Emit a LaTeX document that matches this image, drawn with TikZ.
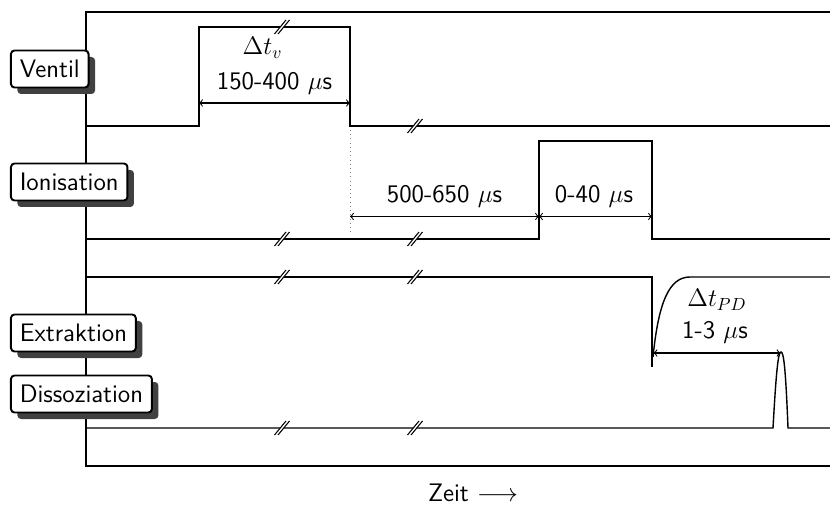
\documentclass[tikz,border=0pt]{standalone}
\usepackage{tikz}
\usetikzlibrary{shadows}
\def\zbreak(#1){\begin{scope}[shift={(#1)}]
	\fill[white] (-0.15,-0.14) -- (-0.08,-0.14) -- (0.15,0.14) -- (0.08,0.14) -- cycle;
	\draw[semithick] (-0.15,-0.14) -- (0.08,0.14) (-0.08,-0.14) -- (0.15,0.14);
\end{scope}}
\tikzset{
	sigbox/.style={draw, line width=1.1pt, fill=white, rounded corners=2pt, inner sep=5pt, minimum height=0.74cm, anchor=west,
		drop shadow={shadow xshift=0.13cm, shadow yshift=-0.13cm, fill=black!75, opacity=1}},
	dim/.style={semithick, <->}
}
\begin{document}
\begin{tikzpicture}[font=\sffamily\Large]
		%%%%% START %%%%%
		\useasboundingbox (0,0) rectangle (16.6,10.1);
		\draw[very thick] (16.6,9.86) -- (1.72,9.86) -- (1.72,0.78) -- (16.6,0.78);
		
		% Ventil
		\draw[thick] (1.72,7.58) -- (3.98,7.58) -- (3.98,9.56) -- (7.0,9.56) -- (7.0,7.58) -- (16.6,7.58);
		\draw[dim] (3.98,8.04) -- (7.0,8.04);
		\node (dtv) at (5.25,9.14) {$\Delta t_v$};
		\node (tv) at (5.49,8.44) {150-400 $\mu$s};
		\draw[dotted, gray] (7.0,7.5) -- (7.0,5.46);
		
		% Ionisation
		\draw[thick] (1.72,5.32) -- (10.78,5.32) -- (10.78,7.28) -- (13.04,7.28) -- (13.04,5.32) -- (16.6,5.32);
		\draw[dim] (7.0,5.77) -- (10.78,5.77);
		\draw[dim] (10.78,5.77) -- (13.04,5.77);
		\node (tw) at (8.89,6.18) {500-650 $\mu$s};
		\node (ti) at (11.88,6.18) {0-40 $\mu$s};
		
		% Extraktion
		\draw[thick] (1.72,4.56) -- (13.04,4.56) -- (13.04,2.76);
		\draw[thick] (13.06,2.96) .. controls (13.17,4.05) and (13.38,4.56) .. (13.8,4.56) -- (16.6,4.56);
		\draw[dim] (13.07,3.04) -- (15.61,3.04);
		\node (dtpd) at (14.34,4.1) {$\Delta t_{PD}$};
		\node (tpd) at (14.3,3.46) {1-3 $\mu$s};
		
		% Dissoziation
		\draw[thick] (1.72,1.54) -- (15.46,1.54) .. controls (15.53,2.8) and (15.57,3.06) .. (15.62,3.06)
			.. controls (15.67,3.06) and (15.71,2.8) .. (15.76,1.54) -- (16.6,1.54);
		
		\zbreak(5.64,9.56)
		\zbreak(8.3,7.58)
		\zbreak(5.64,5.32)
		\zbreak(8.3,5.32)
		\zbreak(5.64,4.56)
		\zbreak(8.3,4.56)
		\zbreak(5.64,1.54)
		\zbreak(8.3,1.54)
		
		\node[sigbox] (ventil) at (0.2,8.72) {Ventil};
		\node[sigbox] (ionisation) at (0.2,6.46) {Ionisation};
		\node[sigbox] (extraktion) at (0.2,3.44) {Extraktion};
		\node[sigbox] (dissoziation) at (0.2,2.22) {Dissoziation};
		
		\node (zeit) at (9.46,0.24) {Zeit $\longrightarrow$};
		%%%%% END %%%%%
\end{tikzpicture}
\end{document}
